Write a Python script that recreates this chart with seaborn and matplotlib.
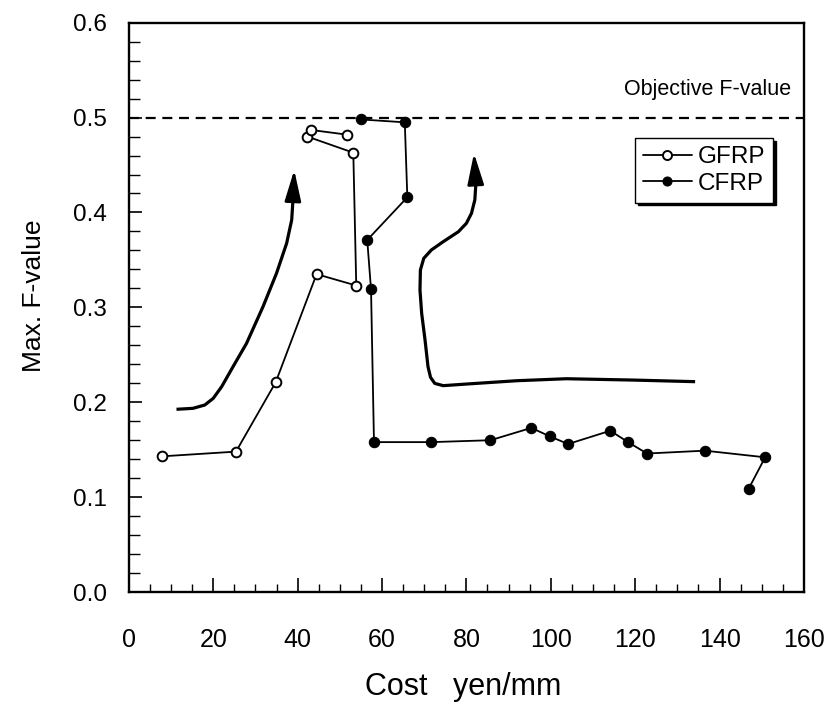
import matplotlib
matplotlib.use("Agg")
import matplotlib.pyplot as plt
import seaborn as sns
import pandas as pd
from matplotlib.ticker import MultipleLocator

# ---- data ----
gfrp_cost = [7.8, 25.4, 34.8, 44.5, 53.9, 53.2, 42.3, 43.1, 51.7]
gfrp_f = [0.143, 0.148, 0.221, 0.335, 0.323, 0.463, 0.480, 0.487, 0.482]

cfrp_cost = [55.1, 65.4, 66.0, 56.5, 57.4, 58.1, 71.7, 85.7, 95.4, 99.8,
             104.1, 114.1, 118.3, 122.8, 136.5, 150.8, 146.9]
cfrp_f = [0.498, 0.495, 0.416, 0.371, 0.319, 0.158, 0.158, 0.160, 0.173, 0.164,
          0.156, 0.170, 0.158, 0.146, 0.149, 0.142, 0.109]

objective_f = 0.5

# hand-drawn trend arrows (data coordinates)
arrow1_x = [11.3, 15.2, 18.0, 20.0, 22.0, 24.7, 27.9, 31.8, 35.0, 37.4, 38.6, 38.9]
arrow1_y = [0.1926, 0.1936, 0.1971, 0.2041, 0.2164, 0.2375, 0.2621, 0.3007,
            0.3359, 0.3675, 0.3921, 0.4132]
arrow1_tip = (39.2, 0.4448)

arrow2_x = [134.2, 119.5, 103.7, 91.9, 80.0, 74.5, 72.5, 71.5, 70.9, 70.2, 69.4,
            69.0, 69.1, 69.9, 71.7, 74.5, 78.1, 80.0, 81.2, 82.0, 82.2, 82.1]
arrow2_y = [0.2217, 0.2234, 0.2248, 0.2227, 0.2192, 0.2175, 0.2199, 0.2263, 0.2375,
            0.2656, 0.2937, 0.3183, 0.3394, 0.3517, 0.3605, 0.3692, 0.3797, 0.3886,
            0.3991, 0.4132, 0.4272, 0.4377]
arrow2_tip = (81.8, 0.4624)

sns.set_style("ticks")
plt.rcParams['font.family'] = ['Liberation Sans', 'DejaVu Sans']
plt.rcParams.update({'text.color': 'black', 'axes.labelcolor': 'black',
                     'xtick.color': 'black', 'ytick.color': 'black',
                     'axes.edgecolor': 'black'})

fig = plt.figure(figsize=(8.31, 7.04), dpi=100)
ax = fig.add_axes([0.155, 0.159, 0.8125, 0.8088])

df_g = pd.DataFrame({'cost': gfrp_cost, 'F': gfrp_f})
df_c = pd.DataFrame({'cost': cfrp_cost, 'F': cfrp_f})

sns.lineplot(data=df_g, x='cost', y='F', sort=False, estimator=None, ax=ax,
             color='black', lw=1.3, marker='o', markersize=7,
             markerfacecolor='white', markeredgecolor='black', markeredgewidth=1.4,
             label='GFRP', zorder=3)
sns.lineplot(data=df_c, x='cost', y='F', sort=False, estimator=None, ax=ax,
             color='black', lw=1.3, marker='o', markersize=7.5,
             markerfacecolor='black', markeredgecolor='black',
             label='CFRP', zorder=3)

ax.axhline(objective_f, color='black', lw=1.6, ls=(0, (4.5, 3)), zorder=2)
ax.text(157.0, 0.530, 'Objective F-value', ha='right', va='center', fontsize=15.5)

# arrows
for xs, ys, tip in [(arrow1_x, arrow1_y, arrow1_tip), (arrow2_x, arrow2_y, arrow2_tip)]:
    ax.plot(xs, ys, color='black', lw=2.3, solid_joinstyle='round',
            solid_capstyle='butt', zorder=2)
    ax.annotate('', xy=tip, xytext=(xs[-1], ys[-1]),
                arrowprops=dict(arrowstyle='-|>,head_length=0.95,head_width=0.25',
                                mutation_scale=20, lw=2.0, color='black',
                                shrinkA=0, shrinkB=0))

ax.set_xlim(0, 160)
ax.set_ylim(0, 0.6)
ax.xaxis.set_major_locator(MultipleLocator(20))
ax.xaxis.set_minor_locator(MultipleLocator(5))
ax.yaxis.set_major_locator(MultipleLocator(0.1))
ax.yaxis.set_minor_locator(MultipleLocator(0.02))
ax.set_yticks([0.0, 0.1, 0.2, 0.3, 0.4, 0.5, 0.6])
ax.set_yticklabels(['0.0', '0.1', '0.2', '0.3', '0.4', '0.5', '0.6'])

ax.tick_params(axis='x', which='major', direction='in', length=10, width=1.2, pad=26,
               labelsize=18)
ax.tick_params(axis='x', which='minor', direction='in', length=6, width=1.0)
ax.tick_params(axis='y', which='major', direction='in', length=9, width=1.2, pad=16,
               labelsize=17.5)
ax.tick_params(axis='y', which='minor', direction='in', length=8, width=1.0)

for s in ax.spines.values():
    s.set_linewidth(1.7)
    s.set_color('black')

ax.set_xlabel('Cost   yen/mm', fontsize=22)
ax.set_ylabel('Max. F-value', fontsize=19)
ax.xaxis.label.set_va('baseline')
ax.xaxis.set_label_coords(0.495, -0.181)
ax.yaxis.set_label_coords(-0.122, 0.52)

leg = ax.legend(loc='upper right', bbox_to_anchor=(0.9545, 0.797), borderaxespad=0,
                frameon=True, fancybox=False, fontsize=17.5, handlelength=2.0,
                handletextpad=0.25, borderpad=0.33, labelspacing=0.18,
                shadow={'color': 'black', 'alpha': 1.0})
leg.get_frame().set_edgecolor('black')
leg.get_frame().set_linewidth(1.0)
for h in leg.legend_handles:
    h.set_markersize(6.5)

fig.savefig('out.png', dpi=100)
